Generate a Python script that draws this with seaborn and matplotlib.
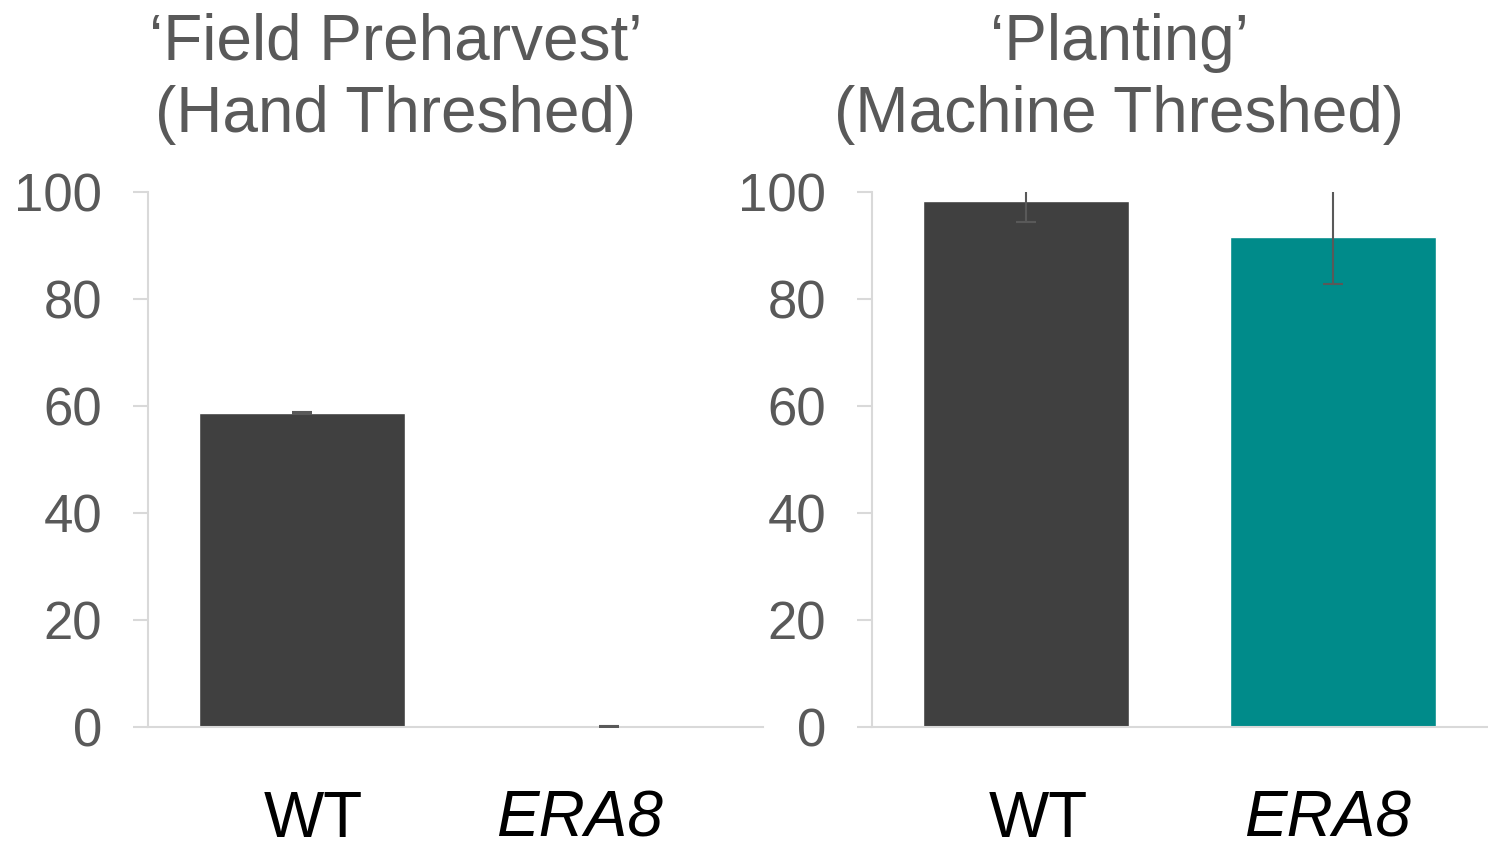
import matplotlib
matplotlib.use("Agg")
import matplotlib.pyplot as plt
import matplotlib.transforms as mtransforms
import seaborn as sns
import pandas as pd

# ---- data ----
genotypes = ["WT", "ERA8"]
hand_values = [58.7, 0.0]
hand_errors = [0.2, 0.1]
machine_values = [98.3, 91.6]
machine_errors = [3.9, 8.8]
titles = ["\u2018Field Preharvest\u2019\n(Hand Threshed)",
          "\u2018Planting\u2019\n(Machine Threshed)"]
y_ticks = [0, 20, 40, 60, 80, 100]
bar_colors = ["#404040", "#008B8A"]

sns.set_theme(style="white")
plt.rcParams["font.family"] = ["Liberation Sans", "DejaVu Sans"]

fig = plt.figure(figsize=(14.88, 8.51), dpi=100)
axes = [fig.add_axes([0.0995, 0.1457, 0.4133, 0.6287]),
        fig.add_axes([0.586, 0.1457, 0.4133, 0.6287])]

# horizontal nudges (pixels) of category labels, as in the original layout
label_shifts = [[12, -30], [13, -6]]

panels = [(hand_values, hand_errors), (machine_values, machine_errors)]
for ax, (vals, errs), title, shifts in zip(axes, panels, titles, label_shifts):
    df = pd.DataFrame({"genotype": genotypes, "value": vals})
    sns.barplot(data=df, x="genotype", y="value", hue="genotype",
                palette=bar_colors, order=genotypes, hue_order=genotypes,
                errorbar=None, width=0.67, saturation=1, legend=False, ax=ax)
    ax.errorbar(range(len(genotypes)), vals, yerr=errs, fmt="none",
                ecolor="#595959", elinewidth=1.5, capsize=7, capthick=1.5,
                zorder=5)
    ax.set_xlim(-0.5, 1.5)
    ax.set_ylim(0, 100)
    ax.set_yticks(y_ticks)
    ax.set_xlabel("")
    ax.set_ylabel("")
    for s in ["top", "right"]:
        ax.spines[s].set_visible(False)
    for s in ["left", "bottom"]:
        ax.spines[s].set_color("#d9d9d9")
        ax.spines[s].set_linewidth(1.5)
    ax.tick_params(axis="y", left=True, length=11, width=1.5, color="#d9d9d9",
                   labelsize=38, labelcolor="#595959", pad=22)
    ax.tick_params(axis="x", bottom=False, length=0, labelsize=46,
                   labelcolor="black", pad=45)
    for lab, dx in zip(ax.get_xticklabels(), shifts):
        if lab.get_text() == "ERA8":
            lab.set_fontstyle("italic")
        lab.set_transform(lab.get_transform() +
                          mtransforms.ScaledTranslation(dx / 100, 0,
                                                        fig.dpi_scale_trans))
    ax.text(0.402, 1.335, title, transform=ax.transAxes, ha="center",
            va="top", fontsize=46, color="#595959", linespacing=1.25)

fig.savefig("out.png", dpi=100)
